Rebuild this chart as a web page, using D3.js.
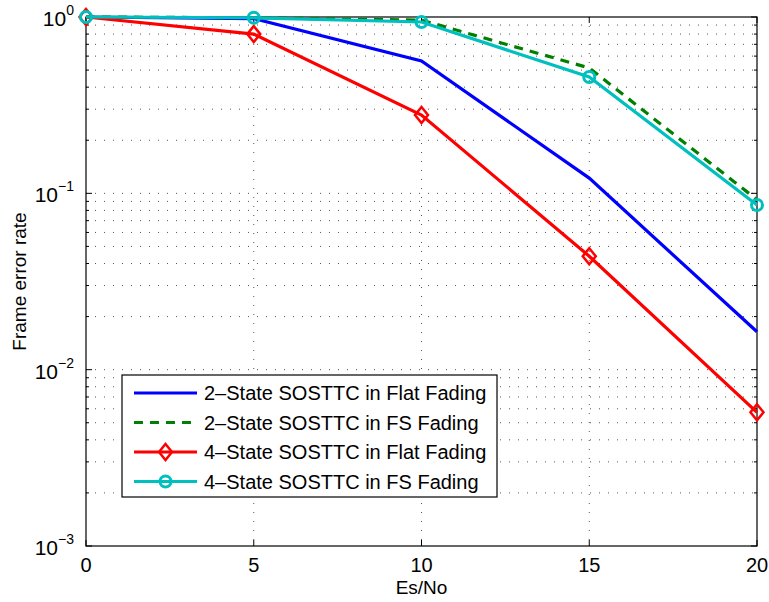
<!DOCTYPE html>
<html><head><meta charset="utf-8">
<script src="https://cdn.jsdelivr.net/npm/d3@7"></script>
<style>body{margin:0;background:#fff;} text{font-family:"Liberation Sans",Arial,Helvetica,sans-serif;}</style>
</head><body><svg id="c" width="769" height="602"></svg>
<script>
const esno = [0, 5, 10, 15, 20];
const fer2Flat = [1.0, 0.98, 0.563, 0.122, 0.0164];
const fer2FS = [1.0, 0.99, 0.96, 0.514, 0.092];
const fer4Flat = [1.0, 0.80, 0.278, 0.044, 0.00573];
const fer4FS = [1.0, 0.99, 0.937, 0.457, 0.0858];
const xTicks = [0, 5, 10, 15, 20];
const yTickExps = [0, -1, -2, -3];
const seriesNames = ["2\u2013State SOSTTC in Flat Fading","2\u2013State SOSTTC in FS Fading","4\u2013State SOSTTC in Flat Fading","4\u2013State SOSTTC in FS Fading"];

const series = [
  {name: seriesNames[0], vals: fer2Flat, color: "#0000ff", dash: null, marker: null},
  {name: seriesNames[1], vals: fer2FS, color: "#008000", dash: "9,7", marker: null},
  {name: seriesNames[2], vals: fer4Flat, color: "#ff0000", dash: null, marker: "diamond"},
  {name: seriesNames[3], vals: fer4FS, color: "#00bfbf", dash: null, marker: "circle"}
];

const L = 86, R = 757, T = 17, B = 546;
const svg = d3.select("#c");
const x = d3.scaleLinear().domain([0, 20]).range([L, R]);
const y = d3.scaleLog().domain([1e-3, 1]).range([B, T]);

// grid
const g = svg.append("g");
const minor = [];
for (let e = -3; e < 0; e++) for (let m = 1; m < 10; m++) minor.push(m * Math.pow(10, e));
minor.push(1);
minor.forEach(v => {
  if (v <= 1e-3 || v >= 1) return;
  g.append("line").attr("x1", L).attr("x2", R).attr("y1", y(v)).attr("y2", y(v))
    .attr("stroke", "#555").attr("stroke-width", 1).attr("stroke-dasharray", "1,8");
});
xTicks.slice(1, -1).forEach(v => {
  g.append("line").attr("x1", x(v)).attr("x2", x(v)).attr("y1", T).attr("y2", B)
    .attr("stroke", "#555").attr("stroke-width", 1).attr("stroke-dasharray", "1,8");
});

// axes box
svg.append("rect").attr("x", L).attr("y", T).attr("width", R - L).attr("height", B - T)
  .attr("fill", "none").attr("stroke", "#000").attr("stroke-width", 1.2);

// ticks
xTicks.forEach(v => {
  svg.append("line").attr("x1", x(v)).attr("x2", x(v)).attr("y1", B).attr("y2", B - 6).attr("stroke", "#000");
  svg.append("line").attr("x1", x(v)).attr("x2", x(v)).attr("y1", T).attr("y2", T + 6).attr("stroke", "#000");
  svg.append("text").attr("x", x(v)).attr("y", B + 26).attr("text-anchor", "middle")
    .attr("font-size", 20).text(v);
});
minor.forEach(v => {
  const len = ([1e-3,1e-2,1e-1,1].some(d => Math.abs(v - d) < d * 1e-6)) ? 6 : 3;
  svg.append("line").attr("x1", L).attr("x2", L + len).attr("y1", y(v)).attr("y2", y(v)).attr("stroke", "#000");
  svg.append("line").attr("x1", R).attr("x2", R - len).attr("y1", y(v)).attr("y2", y(v)).attr("stroke", "#000");
});
yTickExps.forEach(e => {
  const t = svg.append("text").attr("x", 74).attr("y", y(Math.pow(10, e)) + 9).attr("text-anchor", "end")
    .attr("font-size", 21);
  t.append("tspan").text("10");
  t.append("tspan").attr("dy", -11).attr("font-size", 14).text(e === 0 ? "0" : "\u2212" + (-e));
});

svg.append("text").attr("x", (L + R) / 2).attr("y", 594).attr("text-anchor", "middle").attr("font-size", 19).text("Es/No");
svg.append("text").attr("transform", `translate(26,${(T + B) / 2}) rotate(-90)`).attr("text-anchor", "middle")
  .attr("font-size", 19).text("Frame error rate");

// lines
const line = d3.line().x((d, i) => x(esno[i])).y(d => y(d));
function drawMarker(sel, type, cx, cy, color) {
  if (type === "diamond") {
    sel.append("path").attr("d", `M${cx},${cy - 8}L${cx + 6.5},${cy}L${cx},${cy + 8}L${cx - 6.5},${cy}Z`)
      .attr("fill", "none").attr("stroke", color).attr("stroke-width", 2.5);
  } else if (type === "circle") {
    sel.append("circle").attr("cx", cx).attr("cy", cy).attr("r", 5.5)
      .attr("fill", "none").attr("stroke", color).attr("stroke-width", 3);
  }
}
series.forEach(s => {
  svg.append("path").datum(s.vals).attr("d", line).attr("fill", "none").attr("stroke", s.color)
    .attr("stroke-width", 3.2).attr("stroke-dasharray", s.dash);
  if (s.marker) s.vals.forEach((v, i) => drawMarker(svg, s.marker, x(esno[i]), y(v), s.color));
});

// legend
const lg = svg.append("g");
lg.append("rect").attr("x", 122).attr("y", 375).attr("width", 375).attr("height", 122)
  .attr("fill", "#fff").attr("stroke", "#000").attr("stroke-width", 1.2);
series.forEach((s, i) => {
  const yy = 393 + i * 29.5;
  lg.append("line").attr("x1", 134).attr("x2", 197).attr("y1", yy).attr("y2", yy)
    .attr("stroke", s.color).attr("stroke-width", 3.2).attr("stroke-dasharray", s.dash);
  if (s.marker) drawMarker(lg, s.marker, 165.5, yy, s.color);
  lg.append("text").attr("x", 204).attr("y", yy + 7).attr("font-size", 20).text(s.name);
});
</script></body></html>
